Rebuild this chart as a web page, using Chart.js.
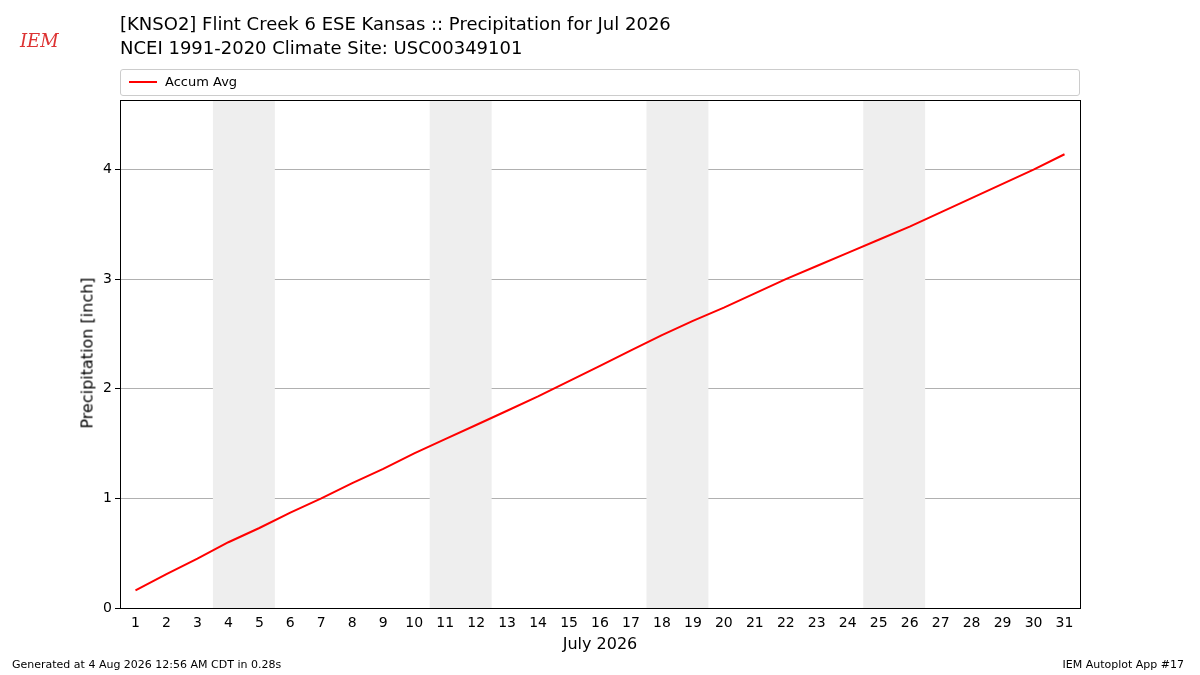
<!DOCTYPE html>
<html><head><meta charset="utf-8">
<script src="https://cdn.jsdelivr.net/npm/chart.js@4/dist/chart.umd.min.js"></script>
<style>
body{margin:0;width:1200px;height:675px;background:#fff;font-family:"DejaVu Sans",sans-serif;position:relative;overflow:hidden}
#c{position:absolute;left:0;top:0}
.t{position:absolute;color:#000;white-space:nowrap}
#legend{position:absolute;left:120px;top:69px;width:958px;height:25px;border:1px solid #ccc;border-radius:3px;font-size:13px}
</style></head><body>
<canvas id="c" width="1200" height="675"></canvas>
<div class="t" style="left:120px;top:12px;font-size:18px;line-height:24px">[KNSO2] Flint Creek 6 ESE Kansas :: Precipitation for Jul 2026<br>NCEI 1991-2020 Climate Site: USC00349101</div>
<div class="t" style="left:20px;top:30px;font-size:18px;font-style:italic;font-family:'DejaVu Serif';color:#d33">IEM</div>
<div id="legend"><span style="position:absolute;left:8px;top:11px;width:28px;border-top:2px solid red"></span><span style="position:absolute;left:44px;top:4px">Accum Avg</span></div>
<div class="t" style="left:600px;top:634px;font-size:16px;transform:translateX(-50%)">July 2026</div>
<div class="t" style="left:87px;top:353px;font-size:16px;transform:translate(-50%,-50%) rotate(-90deg)">Precipitation [inch]</div>
<div class="t" style="left:12px;top:658px;font-size:11px">Generated at 4 Aug 2026 12:56 AM CDT in 0.28s</div>
<div class="t" style="right:16px;top:658px;font-size:11px">IEM Autoplot App #17</div>
<script>
const days = Array.from({length: 31}, (_, i) => i + 1);
const accumAvg = [0.16,0.31,0.45,0.60,0.73,0.87,1.00,1.14,1.27,1.41,1.54,1.67,1.80,1.93,2.07,2.21,2.35,2.49,2.62,2.74,2.87,3.00,3.12,3.24,3.36,3.48,3.61,3.74,3.87,4.00,4.14];
const weekends = [[3.5,5.5],[10.5,12.5],[17.5,19.5],[24.5,26.5]];

const shade = {
  id: 'shade',
  beforeDatasetsDraw(chart) {
    const {ctx, chartArea: a, scales: {x}} = chart;
    ctx.save();
    ctx.fillStyle = '#eeeeee';
    weekends.forEach(([s, e]) => {
      const x0 = x.getPixelForValue(s), x1 = x.getPixelForValue(e);
      ctx.fillRect(x0, a.top, x1 - x0, a.bottom - a.top);
    });
    ctx.restore();
  },
  afterDraw(chart) {
    const {ctx, chartArea: a} = chart;
    ctx.save();
    ctx.strokeStyle = '#000';
    ctx.lineWidth = 1;
    ctx.strokeRect(a.left + 0.5, a.top + 0.5, a.right - a.left, a.bottom - a.top);
    ctx.restore();
  }
};

new Chart(document.getElementById('c'), {
  type: 'line',
  data: {
    datasets: [{
      data: days.map((d, i) => ({x: d, y: accumAvg[i]})),
      borderColor: 'red', borderWidth: 2, pointRadius: 0, tension: 0
    }]
  },
  options: {
    responsive: false, animation: false,
    layout: {padding: {top: 100, right: 120, left: 0, bottom: 0}},
    plugins: {legend: {display: false}, tooltip: {enabled: false}},
    scales: {
      x: {
        type: 'linear', min: 0.5, max: 31.5,
        afterFit: s => { s.height = 67; },
        afterBuildTicks: s => { s.ticks = days.map(v => ({value: v})); },
        ticks: {color: '#000', font: {size: 14, family: 'DejaVu Sans'}, maxRotation: 0, autoSkip: false, padding: 2},
        grid: {display: false, tickLength: 5, drawTicks: true, color: '#000'},
        border: {display: false}
      },
      y: {
        min: 0, max: 4.635,
        afterFit: s => { s.width = 120; },
        afterBuildTicks: s => { s.ticks = [0,1,2,3,4].map(v => ({value: v})); },
        ticks: {color: '#000', font: {size: 14, family: 'DejaVu Sans'}},
        grid: {color: '#b0b0b0', tickColor: '#000', tickLength: 5},
        border: {display: false}
      }
    }
  },
  plugins: [shade]
});
</script>
</body></html>
